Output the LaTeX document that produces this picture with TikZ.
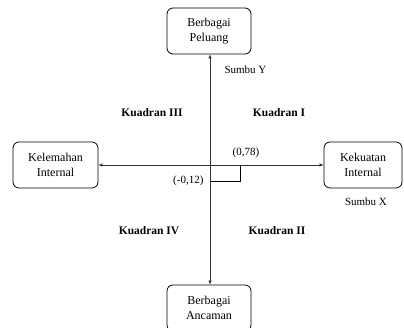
\documentclass[tikz,border=0pt]{standalone}
\usepackage{fontspec}
\setmainfont{Liberation Serif}
\usetikzlibrary{arrows.meta}
\begin{document}
\begin{tikzpicture}[x=1pt,y=-1pt,
  boxnode/.style={draw, rounded corners=6pt, line width=0.8pt, align=center,
    minimum height=46pt, inner sep=2pt, font=\fontsize{12}{14.5}\selectfont},
  quad/.style={font=\fontsize{11.5}{13}\selectfont\bfseries},
  lbl/.style={font=\fontsize{11}{13}\selectfont},
  axis/.style={line width=0.6pt, draw=black!80, {Latex[length=4pt,width=3.5pt]}-{Latex[length=4pt,width=3.5pt]}}]
\useasboundingbox (0,0) rectangle (404,327);
\node[boxnode, minimum width=84pt] (top) at (209,31) {Berbagai\\Peluang};
\node[boxnode, minimum width=85pt] (left) at (55.5,165) {Kelemahan\\Internal};
\node[boxnode, minimum width=78pt] (right) at (363,165) {Kekuatan\\Internal};
\node[boxnode, minimum width=84pt] (bot) at (209,308) {Berbagai\\Ancaman};
\draw[axis] (top.south -| 210,0) -- (bot.north -| 210,0);
\draw[axis] (left.east) -- (right.west);
\coordinate (o) at (210,165);
\coordinate (c1) at (240,165);
\coordinate (c2) at (240,181);
\coordinate (c3) at (210,181);
\draw[line width=1pt] (c1) -- (c2) -- (c3);
\node[lbl, anchor=south] (p1) at (246,161) {(0,78)};
\node[lbl, anchor=east] (p2) at (207,181) {(-0,12)};
\node[lbl, anchor=west] (sy) at (221,70) {Sumbu Y};
\node[lbl] (sx) at (366,202) {Sumbu X};
\node[quad] (q3) at (152,113) {Kuadran III};
\node[quad] (q1) at (279,113) {Kuadran I};
\node[quad] (q4) at (149,231) {Kuadran IV};
\node[quad] (q2) at (277,231) {Kuadran II};
\end{tikzpicture}
\end{document}
